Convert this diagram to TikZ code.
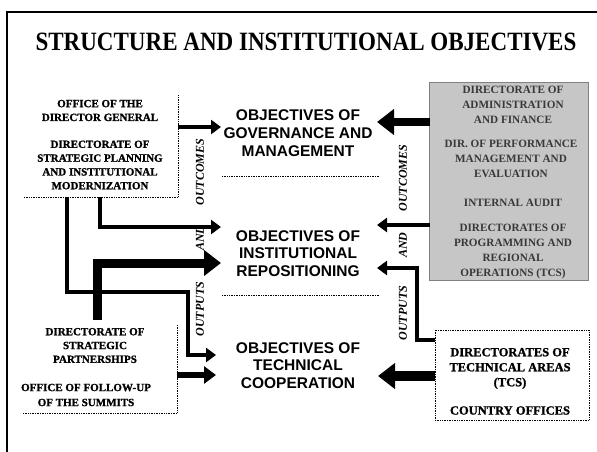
\documentclass[tikz,border=0pt]{standalone}
\usepackage{fontspec}
\setmainfont{Liberation Serif}
\setsansfont{Liberation Sans}
\newfontfamily\heavyserif{Liberation Serif}[FakeBold=1.2]
\usetikzlibrary{arrows.meta}
\definecolor{boxgray}{HTML}{C6C6C6}
\definecolor{graytext}{HTML}{383838}
\begin{document}
\begin{tikzpicture}[x=1pt,y=-1pt,
  boxtext/.style={font=\heavyserif\bfseries\fontsize{11}{13.8}\selectfont, align=center, inner sep=0pt},
  graytxt/.style={font=\bfseries\fontsize{11.2}{15}\selectfont, align=center, inner sep=0pt, text=graytext},
  objtext/.style={font=\sffamily\bfseries\fontsize{15.5}{17.8}\selectfont, align=center, inner sep=0pt},
  flowlabel/.style={font=\bfseries\itshape\fontsize{12}{12}\selectfont, rotate=90, inner sep=0pt},
  dotline/.style={densely dotted, line width=0.7pt},
  frameline/.style={line width=2.5pt},
  thinflow/.style={line width=4.5pt, line join=miter, -{Triangle[length=10pt,width=14pt]}},
  midflow/.style={line width=6pt, line join=miter, -{Triangle[length=12pt,width=17pt]}},
  thickflow/.style={line width=9pt, line join=miter, -{Triangle[length=17pt,width=25pt]}}
]
\useasboundingbox (0,0) rectangle (597,452);
% frame
\coordinate (ftl) at (7,12);
\coordinate (ftr) at (597,12);
\coordinate (fbl) at (7,452);
\draw[frameline] (fbl) -- (ftl) -- (ftr);
% title
\node[inner sep=0pt, font=\bfseries\fontsize{24}{24}\selectfont, xscale=0.96, yscale=1.1] (title) at (306,42) {STRUCTURE AND INSTITUTIONAL OBJECTIVES};

% left top box
\coordinate (tl1) at (24,197);
\coordinate (tl2) at (178,197);
\coordinate (tl3) at (178,95);
\draw[dotline] (tl1) -- (tl2) -- (tl3);
\node[boxtext] (dg) at (100,110.5) {OFFICE OF THE\\DIRECTOR GENERAL};
\node[boxtext] (dspim) at (100,165) {DIRECTORATE OF\\STRATEGIC PLANNING\\AND INSTITUTIONAL\\MODERNIZATION};

% left bottom box
\coordinate (bl1) at (23,413);
\coordinate (bl2) at (177,413);
\coordinate (bl3) at (177,325);
\draw[dotline] (bl1) -- (bl2) -- (bl3);
\node[boxtext] (dsp) at (95,345.5) {DIRECTORATE OF\\STRATEGIC\\PARTNERSHIPS};
\node[boxtext, font=\heavyserif\bfseries\fontsize{11}{15}\selectfont] (ofs) at (86,395) {OFFICE OF FOLLOW-UP\\OF THE SUMMITS};

% right gray box
\node[draw=gray, fill=boxgray, minimum width=159pt, minimum height=198pt, inner sep=0pt] (gray) at (509,181) {};
\node[graytxt] (daf) at (513,105) {DIRECTORATE OF\\ADMINISTRATION\\AND FINANCE};
\node[graytxt] (dpm) at (511,158.5) {DIR. OF PERFORMANCE\\MANAGEMENT AND\\EVALUATION};
\node[graytxt] (ia) at (513,202.5) {INTERNAL AUDIT};
\node[graytxt] (dpr) at (513,251) {DIRECTORATES OF\\PROGRAMMING AND\\REGIONAL\\OPERATIONS (TCS)};

% right bottom box
\node[draw, dotline, fill=white, minimum width=154pt, minimum height=90pt, inner sep=0pt] (tech) at (512,375) {};
\node[boxtext, font=\heavyserif\bfseries\fontsize{12.5}{15}\selectfont] (dta) at (510,368.5) {DIRECTORATES OF\\TECHNICAL AREAS\\(TCS)};
\node[boxtext, font=\heavyserif\bfseries\fontsize{12.5}{15}\selectfont] (co) at (510,410.5) {COUNTRY OFFICES};

% objectives
\node[objtext] (ogm) at (298,133) {OBJECTIVES OF\\GOVERNANCE AND\\MANAGEMENT};
\node[objtext] (oir) at (298,253.5) {OBJECTIVES OF\\INSTITUTIONAL\\REPOSITIONING};
\node[objtext] (otc) at (298,365.5) {OBJECTIVES OF\\TECHNICAL\\COOPERATION};
\coordinate (d1a) at (222,176);
\coordinate (d1b) at (379,176);
\coordinate (d2a) at (222,295);
\coordinate (d2b) at (379,295);
\draw[dotline] (d1a) -- (d1b);
\draw[dotline] (d2a) -- (d2b);

% flow labels
\node[flowlabel] (lout) at (200,172) {OUTCOMES};
\node[flowlabel] (land) at (200,238) {AND};
\node[flowlabel] (lputs) at (200,309) {OUTPUTS};
\node[flowlabel] (rout) at (403,178) {OUTCOMES};
\node[flowlabel] (rand) at (403,245) {AND};
\node[flowlabel] (rputs) at (403,313) {OUTPUTS};

% left arrows
\coordinate (a1s) at (178,127);
\coordinate (a1e) at (221,127);
\draw[thinflow] (a1s) -- (a1e);
\coordinate (a2s) at (100,197);
\coordinate (a2e) at (221,227);
\draw[thinflow] (a2s) |- (a2e);
\coordinate (a3s) at (67,197);
\coordinate (a3b) at (188,292);
\coordinate (a3e) at (216,355);
\draw[thinflow] (a3s) |- (a3b) |- (a3e);
\coordinate (a4s) at (97,320);
\coordinate (a4e) at (221,263);
\draw[thickflow] (a4s) |- (a4e);
\coordinate (a5s) at (177,375);
\coordinate (a5e) at (216,375);
\draw[midflow] (a5s) -- (a5e);

% right arrows
\coordinate (b1s) at (430,122);
\coordinate (b1e) at (377,122);
\draw[thickflow, line width=8pt] (b1s) -- (b1e);
\coordinate (b2s) at (430,225);
\coordinate (b2e) at (377,225);
\draw[thinflow] (b2s) -- (b2e);
\coordinate (b3s) at (435,340);
\coordinate (b3b) at (417,268);
\coordinate (b3e) at (377,268);
\draw[thinflow] (b3s) -| (b3b) -- (b3e);
\coordinate (b4s) at (435,376);
\coordinate (b4e) at (378,376);
\draw[thickflow, line width=10pt] (b4s) -- (b4e);
\end{tikzpicture}
\end{document}
